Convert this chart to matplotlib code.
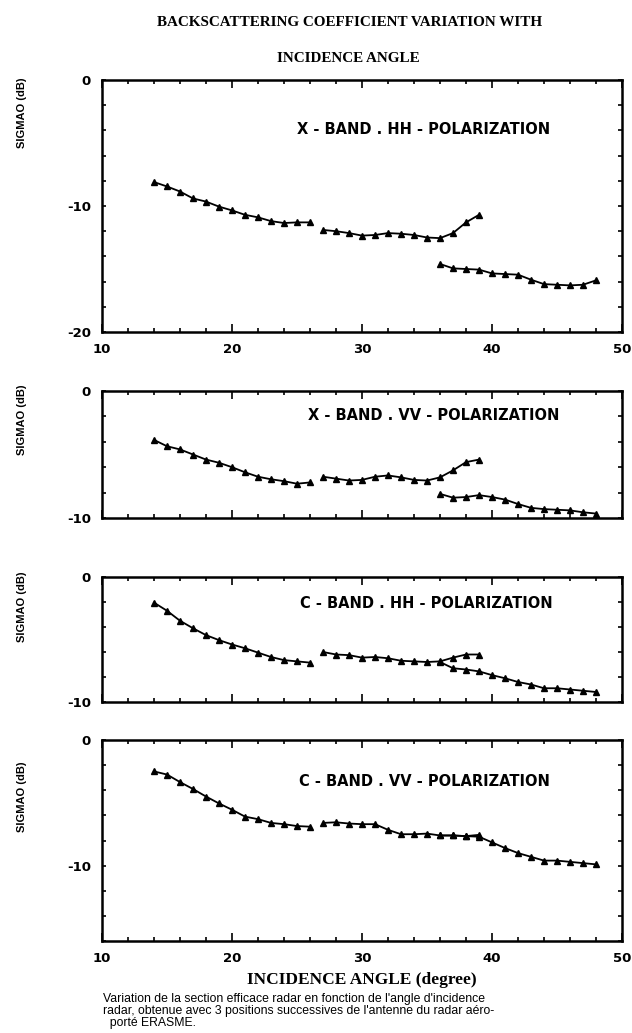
import matplotlib
matplotlib.use("Agg")
import matplotlib.pyplot as plt
from matplotlib.ticker import MultipleLocator, FixedLocator

# ---------------- data ----------------
angles_pos1 = [14, 15, 16, 17, 18, 19, 20, 21, 22, 23, 24, 25, 26]
angles_pos2 = [27, 28, 29, 30, 31, 32, 33, 34, 35, 36, 37, 38, 39]
angles_pos3 = [36, 37, 38, 39, 40, 41, 42, 43, 44, 45, 46, 47, 48]

xhh_pos1 = [-8.1, -8.45, -8.85, -9.4, -9.65, -10.05, -10.35, -10.7, -10.9, -11.2, -11.35, -11.3, -11.3]
xhh_pos2 = [-11.9, -12.0, -12.15, -12.35, -12.3, -12.15, -12.2, -12.3, -12.5, -12.55, -12.15, -11.3, -10.7]
xhh_pos3 = [-14.6, -14.95, -15.0, -15.05, -15.35, -15.4, -15.45, -15.85, -16.2, -16.25, -16.3, -16.25, -15.9]

xvv_pos1 = [-3.85, -4.35, -4.6, -5.0, -5.4, -5.65, -6.0, -6.4, -6.75, -6.95, -7.1, -7.3, -7.2]
xvv_pos2 = [-6.75, -6.9, -7.05, -7.0, -6.75, -6.65, -6.8, -7.0, -7.05, -6.8, -6.25, -5.6, -5.4]
xvv_pos3 = [-8.1, -8.4, -8.35, -8.2, -8.35, -8.55, -8.9, -9.2, -9.3, -9.35, -9.4, -9.55, -9.65]

chh_pos1 = [-2.05, -2.7, -3.5, -4.1, -4.65, -5.05, -5.4, -5.7, -6.05, -6.4, -6.65, -6.75, -6.85]
chh_pos2 = [-6.0, -6.2, -6.25, -6.45, -6.4, -6.5, -6.7, -6.75, -6.8, -6.75, -6.45, -6.2, -6.2]
chh_pos3 = [-6.8, -7.3, -7.4, -7.55, -7.85, -8.1, -8.4, -8.6, -8.9, -8.9, -9.0, -9.1, -9.2]

cvv_pos1 = [-2.5, -2.75, -3.35, -3.9, -4.5, -5.05, -5.55, -6.1, -6.3, -6.6, -6.7, -6.85, -6.9]
cvv_pos2 = [-6.6, -6.55, -6.65, -6.7, -6.7, -7.15, -7.5, -7.5, -7.45, -7.6, -7.6, -7.65, -7.55]
cvv_pos3 = [-7.6, -7.6, -7.65, -7.7, -8.15, -8.6, -9.0, -9.3, -9.6, -9.6, -9.7, -9.8, -9.9]

panel_labels = ["X - BAND . HH - POLARIZATION", "X - BAND . VV - POLARIZATION",
                "C - BAND . HH - POLARIZATION", "C - BAND . VV - POLARIZATION"]
panel_series = [(xhh_pos1, xhh_pos2, xhh_pos3), (xvv_pos1, xvv_pos2, xvv_pos3),
                (chh_pos1, chh_pos2, chh_pos3), (cvv_pos1, cvv_pos2, cvv_pos3)]
panel_ylims = [(-20, 0), (-10, 0), (-10, 0), (-16, 0)]
panel_yticks = [[0, -10, -20], [0, -10], [0, -10], [0, -10]]
x_ticks = [10, 20, 30, 40, 50]

title_lines = ["BACKSCATTERING COEFFICIENT VARIATION WITH", "INCIDENCE ANGLE"]
y_label = "SIGMAO (dB)"
x_label = "INCIDENCE ANGLE (degree)"
caption = ["Variation de la section efficace radar en fonction de l'angle d'incidence",
           "radar, obtenue avec 3 positions successives de l'antenne du radar aéro-",
           "  porté ERASME."]

# ---------------- layout ----------------
W, H = 632, 1033
fig = plt.figure(figsize=(W / 100, H / 100), dpi=100)

# (top, bottom) pixel rows of each panel
rows = [(80, 332), (391, 518), (577, 702), (740, 941)]
left_px, right_px = 102, 622

tick_font = dict(family="DejaVu Sans", weight="bold", size=9.5)

for i, (top, bot) in enumerate(rows):
    ax = fig.add_axes([left_px / W, 1 - bot / H, (right_px - left_px) / W, (bot - top) / H])
    s1, s2, s3 = panel_series[i]
    for xs, ys in ((angles_pos1, s1), (angles_pos2, s2), (angles_pos3, s3)):
        ax.plot(xs, ys, color="black", lw=1.3, marker="^", ms=4.5, mfc="black", mec="black")
    ax.set_xlim(10, 50)
    ax.set_ylim(*panel_ylims[i])
    ax.xaxis.set_major_locator(FixedLocator(x_ticks))
    ax.xaxis.set_minor_locator(MultipleLocator(2))
    ax.yaxis.set_major_locator(FixedLocator(panel_yticks[i]))
    ax.yaxis.set_minor_locator(MultipleLocator(2))
    ax.tick_params(which="both", direction="in", top=True, right=True, width=1.2)
    ax.tick_params(which="major", length=6)
    ax.tick_params(which="minor", length=3)
    ax.tick_params(axis="y", which="major", length=3, pad=8)
    ax.tick_params(axis="x", which="major", pad=8)
    for sp in ax.spines.values():
        sp.set_linewidth(1.8)
    ax.set_yticklabels([str(t) for t in panel_yticks[i]], fontdict=tick_font)
    if i in (0, 3):
        ax.set_xticklabels([str(t) for t in x_ticks], fontdict=tick_font)
    else:
        ax.set_xticklabels([])

# panel labels (pixel positions)
label_pos = [(297, 130), (308, 416), (300, 603), (299, 782)]
for (px, py), txt in zip(label_pos, panel_labels):
    fig.text(px / W, 1 - py / H, txt, ha="left", va="center",
             family="DejaVu Sans", weight="bold", size=10.5)

# y labels
ylab_centers = [113, 420, 607, 797]
for yc in ylab_centers:
    fig.text(22 / W, 1 - yc / H, y_label, rotation=90, ha="center", va="center",
             family="Liberation Sans", weight="bold", size=8)

# title
fig.text(350 / W, 1 - 23 / H, title_lines[0], ha="center", va="center",
         family="Liberation Serif", weight="bold", size=10.9)
fig.text(348 / W, 1 - 58 / H, title_lines[1], ha="center", va="center",
         family="Liberation Serif", weight="bold", size=10.9)

# x label
fig.text(362 / W, 1 - 980 / H, x_label, ha="center", va="center",
         family="Liberation Serif", weight="bold", size=12.5)

# caption
for k, line in enumerate(caption):
    fig.text(103 / W, 1 - (999 + 12 * k) / H, line, ha="left", va="center",
             family="Liberation Sans", size=8.8)

fig.savefig("out.png", dpi=100)
